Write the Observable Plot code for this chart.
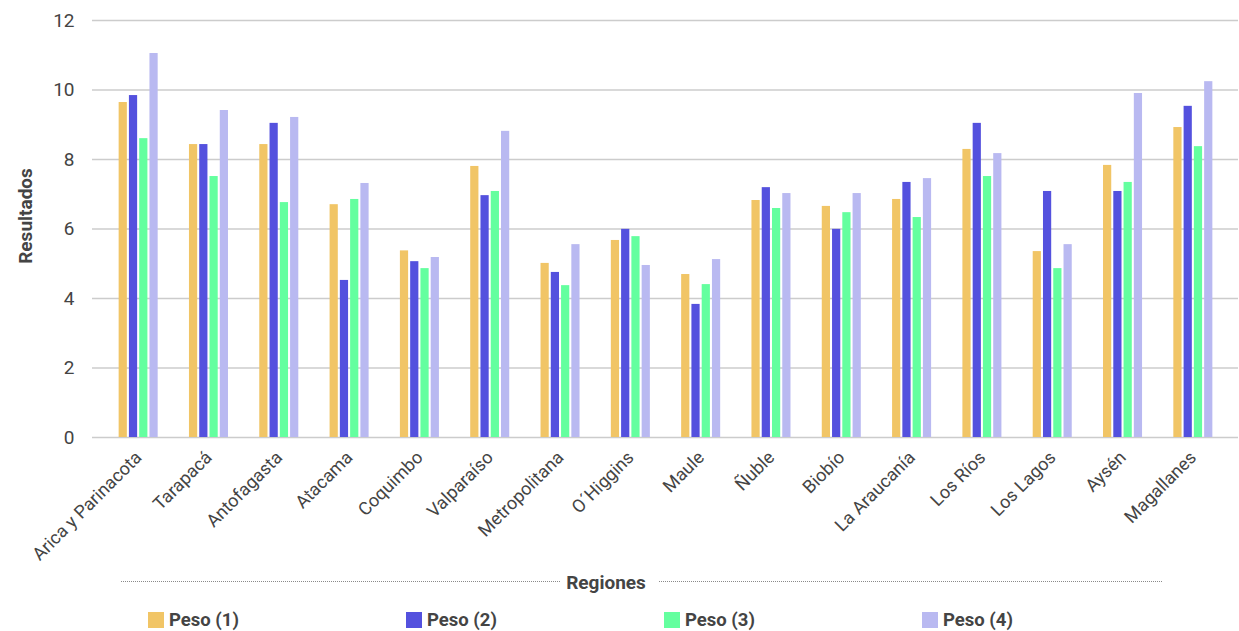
<!DOCTYPE html>
<html><head><meta charset="utf-8">
<script src="https://cdn.jsdelivr.net/npm/d3@7"></script>
<script src="https://cdn.jsdelivr.net/npm/@observablehq/plot@0.6"></script>
<style>
html,body{margin:0;padding:0;background:#fff;}
body{font-family:Roboto, "Noto Sans", sans-serif;color:#444;width:1239px;height:631px;overflow:hidden;}
#wrap{position:relative;width:1239px;height:631px;}
#wrap svg{display:block;position:absolute;left:0;top:0;}
.dots{position:absolute;top:581px;height:0;border-top:1.5px dotted #8a8a8a;}
.title{position:absolute;top:571px;left:0;width:1212px;text-align:center;font-weight:700;font-size:19px;color:#444;}
.leg{position:absolute;top:609px;display:flex;align-items:center;font-weight:700;font-size:18.5px;color:#444;}
.sw{width:16px;height:16px;margin-right:5px;display:inline-block;}
</style></head>
<body><div id="wrap"></div>
<script>
const regions = ["Arica y Parinacota","Tarapacá","Antofagasta","Atacama","Coquimbo","Valparaíso","Metropolitana","O´Higgins","Maule","Ñuble","Biobío","La Araucanía","Los Ríos","Los Lagos","Aysén","Magallanes"];
const series = ["Peso (1)","Peso (2)","Peso (3)","Peso (4)"];
const peso1 = [9.64, 8.43, 8.43, 6.70, 5.37, 7.80, 5.01, 5.67, 4.69, 6.82, 6.65, 6.85, 8.29, 5.35, 7.83, 8.92];
const peso2 = [9.84, 8.43, 9.04, 4.52, 5.06, 6.96, 4.75, 5.99, 3.83, 7.19, 5.99, 7.34, 9.04, 7.08, 7.08, 9.53];
const peso3 = [8.60, 7.51, 6.76, 6.85, 4.86, 7.08, 4.37, 5.78, 4.40, 6.59, 6.47, 6.33, 7.51, 4.86, 7.34, 8.37];
const peso4 = [11.05, 9.41, 9.21, 7.31, 5.18, 8.81, 5.55, 4.95, 5.12, 7.02, 7.02, 7.45, 8.17, 5.55, 9.90, 10.24];
const colors = ["#f1c566","#5451de","#64ff9f","#b9b9f1"];
const yTicks = [0, 2, 4, 6, 8, 10, 12];

const values = [peso1, peso2, peso3, peso4];
const data = [];
regions.forEach((r, i) => series.forEach((s, j) => data.push({region: r, series: s, value: values[j][i]})));

const wrap = document.getElementById("wrap");
const common = {width: 1239, height: 568, marginLeft: 92, marginRight: 1, marginTop: 20, marginBottom: 131,
  style: {fontFamily: "Roboto, sans-serif", color: "#444", background: "transparent"}};

// background: grid + y axis
const bg = Plot.plot({
  ...common,
  y: {domain: [0, 12], label: null},
  marks: [
    Plot.ruleY(yTicks, {stroke: "#cccccc", strokeWidth: 1.5}),
    Plot.axisY({ticks: yTicks, tickSize: 0, tickPadding: 18, fontSize: 19, label: null}),
    Plot.text(["Resultados"], {frameAnchor: "left", dx: -67, dy: -13, rotate: -90, fontSize: 19, fontWeight: "bold", textAnchor: "middle"})
  ]
});
wrap.appendChild(bg);

const chart = Plot.plot({
  ...common,
  fx: {domain: regions, paddingInner: 0.445, paddingOuter: 0.2225, insetLeft: 11, insetRight: 10, round: false, label: null},
  x: {domain: series, paddingInner: 0.2, paddingOuter: 0, round: false, axis: null},
  y: {domain: [0, 12], axis: null},
  color: {domain: series, range: colors},
  marks: [
    Plot.barY(data, {fx: "region", x: "series", y: "value", fill: "series"}),
    Plot.axisFx({anchor: "bottom", tickRotate: -45, tickSize: 0, fontSize: 18, label: null, tickPadding: 17})
  ]
});
wrap.appendChild(chart);

const t = document.createElement("div"); t.className = "title"; t.textContent = "Regiones"; wrap.appendChild(t);
[[121, 560], [659, 1162]].forEach(([a, b]) => { const d = document.createElement("div"); d.className = "dots"; d.style.left = a + "px"; d.style.width = (b - a) + "px"; wrap.appendChild(d); });
const lx = [148, 406, 664, 922];
series.forEach((s, i) => {
  const l = document.createElement("div"); l.className = "leg"; l.style.left = lx[i] + "px";
  const sw = document.createElement("span"); sw.className = "sw"; sw.style.background = colors[i];
  l.appendChild(sw); l.appendChild(document.createTextNode(s)); wrap.appendChild(l);
});
</script></body></html>
